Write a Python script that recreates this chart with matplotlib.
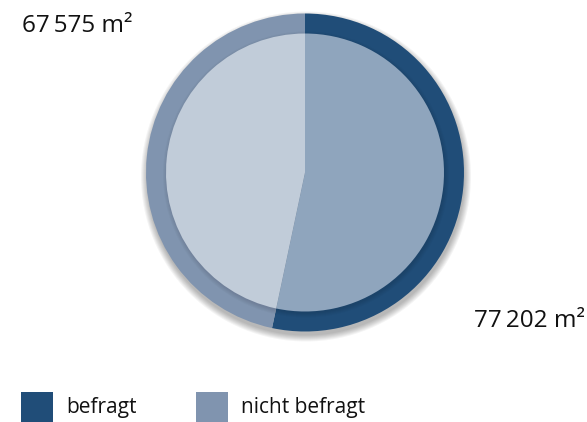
import matplotlib
matplotlib.use("Agg")
import matplotlib.pyplot as plt
from matplotlib.patches import Circle, Rectangle

categories = ["befragt", "nicht befragt"]
values = [77202, 67575]
value_labels = ["77\u2009202 m²", "67\u2009575 m²"]
outer_colors = ["#204d78", "#8094af"]
inner_colors = ["#8fa5bd", "#c1ccd9"]

W, H = 587, 422
fig = plt.figure(figsize=(W / 100, H / 100), dpi=100)
ax = fig.add_axes([0, 0, 1, 1])
ax.set_xlim(0, W)
ax.set_ylim(0, H)
ax.set_aspect("equal")
ax.axis("off")

cx, cy = 305, H - 172.5
R_out, R_in = 159, 139

# soft drop shadow (tight, slightly downward)
for i in range(7):
    r = R_out + 6 - i
    ax.add_patch(Circle((cx + 1, cy - 4), r, color="black", alpha=0.045, lw=0, zorder=1))

ax.pie(values, colors=outer_colors, startangle=90, counterclock=False,
       radius=R_out, center=(cx, cy), frame=True,
       wedgeprops=dict(linewidth=0, zorder=2))
# subtle shadow of inner disc onto ring
for i in range(5):
    ax.add_patch(Circle((cx + 1, cy - 2), R_in + 4 - i, color="black", alpha=0.022, lw=0, zorder=2.5))
ax.pie(values, colors=inner_colors, startangle=90, counterclock=False,
       radius=R_in, center=(cx, cy), frame=True,
       wedgeprops=dict(linewidth=0, zorder=3))
ax.set_xlim(0, W)
ax.set_ylim(0, H)
ax.axis("off")

fam = ["Open Sans", "DejaVu Sans"]
ax.text(22, H - 26, value_labels[1], fontsize=17.5, family=fam, va="center", ha="left",
        color="#111111")
ax.text(585, H - 321, value_labels[0], fontsize=17.5, family=fam, va="center", ha="right",
        color="#111111")

# legend
leg_x = [21, 196]
for i, (cat, col) in enumerate(zip(categories, outer_colors)):
    ax.add_patch(Rectangle((leg_x[i], 0), 32, H - 392, color=col, lw=0))
    ax.text(leg_x[i] + 45, H - 407, cat, fontsize=15, family=fam, va="center", ha="left",
            color="#111111")

fig.savefig("out.png", dpi=100)
